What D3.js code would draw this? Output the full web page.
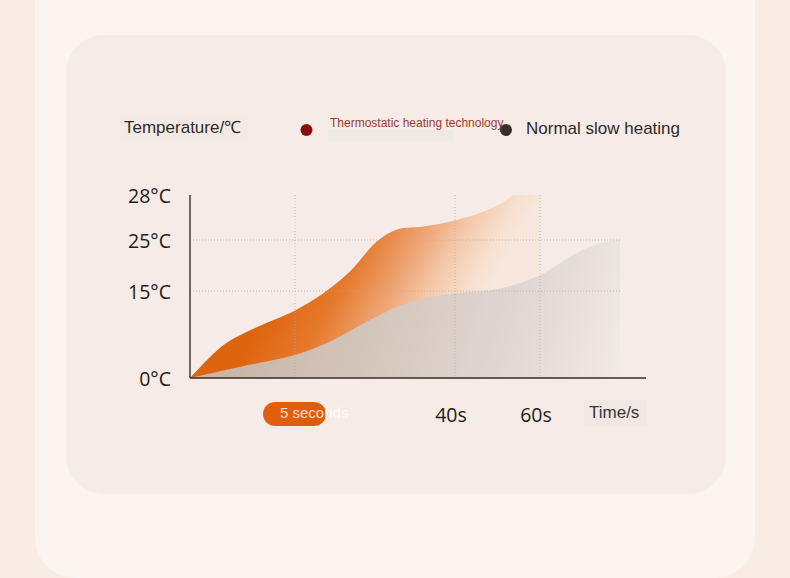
<!DOCTYPE html>
<meta charset="utf-8">
<script src="https://d3js.org/d3.v7.min.js"></script>
<style>
  body { margin: 0; background: #f8ece4; }
  text { font-family: "Liberation Sans", Arial, sans-serif; }
  .num { font-family: "Open Sans", "Noto Sans", sans-serif; }
</style>
<div id="chart"></div>
<script>

  // tick values and labels
  var yTicks = [0, 15, 25, 28];
  var xTicks = [5, 40, 60];
  var xTickLabels = ["5 seconds", "40s", "60s"];
  var seriesNames = ["Thermostatic heating technology", "Normal slow heating"];

  // thermostatic heating (seconds, °C)
  var thermoTime = [0, 1.6, 3.2, 5.15, 11.2, 17.0, 22.9, 27.3, 33.1, 40, 46.7, 53.3, 60];
  var thermoTemp = [0, 5.7, 8.8, 11.7, 14.6, 18.8, 24.7, 25.7, 25.9, 26.3, 26.9, 27.9, 30];

  // normal slow heating
  var normalTime = [0, 2.4, 5.15, 12.7, 21.4, 29.4, 40, 50.6, 60, 68.3, 75, 80];
  var normalTemp = [0, 1.95, 4.0, 6.3, 10.0, 12.9, 14.6, 15.5, 18.1, 22.1, 24.4, 25];

  var W = 790, H = 578;

  var svg = d3.select("#chart")
    .append("svg")
      .attr("width", W)
      .attr("height", H);

  // background frames
  svg.append("rect").attr("width", W).attr("height", H).attr("fill", "#f8ece4");
  svg.append("rect")
    .attr("x", 35).attr("y", -60).attr("width", 720).attr("height", 638)
    .attr("rx", 40).attr("fill", "#fcf4ef");
  svg.append("rect")
    .attr("x", 66).attr("y", 35).attr("width", 660).attr("height", 459)
    .attr("rx", 38).attr("fill", "#f6ebe6");

  // scales (axis ticks are not evenly spaced in the picture)
  var x = d3.scaleLinear()
    .domain([0, 5, 40, 60, 80, 86.5])
    .range([190, 295, 455, 540, 620, 646]);
  var y = d3.scaleLinear()
    .domain([0, 15, 25, 28])
    .range([378, 291, 240, 195]);

  var defs = svg.append("defs");

  defs.append("clipPath").attr("id", "plotClip")
    .append("rect")
      .attr("x", x(0)).attr("y", y(28))
      .attr("width", x(86.5) - x(0)).attr("height", y(0) - y(28));

  var og = defs.append("linearGradient").attr("id", "orangeGrad")
    .attr("gradientUnits", "userSpaceOnUse")
    .attr("x1", 300).attr("y1", 250).attr("x2", 460).attr("y2", 340);
  [[0, "#df640e"], [0.3, "#e57a2c"], [0.55, "#eea575"], [0.72, "#f3c8a8"], [0.9, "#f7e0cf"], [1, "#f8e7dc"]]
    .forEach(function(s) { og.append("stop").attr("offset", s[0]).attr("stop-color", s[1]); });

  var gg = defs.append("linearGradient").attr("id", "greyGrad")
    .attr("gradientUnits", "userSpaceOnUse")
    .attr("x1", 250).attr("y1", 330).attr("x2", 600).attr("y2", 440);
  [[0, "#c9b6a9"], [0.45, "#d9ccc4"], [0.75, "#e3dbd6"], [1, "#f2eae5"]]
    .forEach(function(s) { gg.append("stop").attr("offset", s[0]).attr("stop-color", s[1]); });

  var pg = defs.append("linearGradient").attr("id", "pillGrad")
    .attr("x1", 0).attr("y1", 0).attr("x2", 1).attr("y2", 0);
  pg.append("stop").attr("offset", 0).attr("stop-color", "#e2600d");
  pg.append("stop").attr("offset", 1).attr("stop-color", "#dd5a0a");

  var thermo = thermoTime.map(function(t, i) { return [t, thermoTemp[i]]; });
  var normal = normalTime.map(function(t, i) { return [t, normalTemp[i]]; });

  var area = d3.area()
    .x(function(d) { return x(d[0]); })
    .y0(y(0))
    .y1(function(d) { return y(d[1]); })
    .curve(d3.curveCatmullRom.alpha(0.5));

  var plot = svg.append("g").attr("clip-path", "url(#plotClip)");
  plot.append("path").datum(thermo).attr("d", area).attr("fill", "url(#orangeGrad)");
  plot.append("path").datum(normal).attr("d", area).attr("fill", "url(#greyGrad)");

  // dotted grid
  svg.append("g").selectAll("line")
    .data([15, 25])
    .enter().append("line")
      .attr("x1", x(0)).attr("x2", x(80) + 2)
      .attr("y1", function(d) { return y(d); })
      .attr("y2", function(d) { return y(d); })
      .attr("stroke", "#b5a79f").attr("stroke-opacity", 0.75)
      .attr("stroke-dasharray", "1,2");
  svg.append("g").selectAll("line")
    .data(xTicks)
    .enter().append("line")
      .attr("x1", function(d) { return x(d); })
      .attr("x2", function(d) { return x(d); })
      .attr("y1", y(28)).attr("y2", y(0))
      .attr("stroke", "#b5a79f").attr("stroke-opacity", 0.75)
      .attr("stroke-dasharray", "1,2");

  // axes lines
  svg.append("line")
    .attr("x1", x(0)).attr("x2", x(0)).attr("y1", y(28)).attr("y2", y(0))
    .attr("stroke", "#3b2a22").attr("stroke-width", 1.4);
  svg.append("line")
    .attr("x1", x(0)).attr("x2", x(86.5)).attr("y1", y(0)).attr("y2", y(0))
    .attr("stroke", "#3b2a22").attr("stroke-width", 1.4);

  // y tick labels
  svg.append("g").selectAll("text")
    .data(yTicks)
    .enter().append("text")
      .attr("class", "num")
      .attr("x", 171)
      .attr("y", function(d) { return y(d) + 1; })
      .attr("dy", "0.35em")
      .attr("text-anchor", "end")
      .attr("font-size", 19.5)
      .attr("fill", "#1e1a18")
      .text(function(d) { return d + "°C"; });

  // x tick labels
  xTicks.forEach(function(t, i) {
    if (i === 0) {
      svg.append("rect")
        .attr("x", x(t) - 32).attr("y", 402).attr("width", 63).attr("height", 24)
        .attr("rx", 12).attr("fill", "url(#pillGrad)");
      svg.append("text")
        .attr("x", x(t) - 15).attr("y", 418)
        .attr("font-size", 15).attr("fill", "#ffffff").attr("fill-opacity", 0.8)
        .text(xTickLabels[i]);
    } else {
      svg.append("text")
        .attr("class", "num")
        .attr("x", x(t) - 4).attr("y", 422)
        .attr("text-anchor", "middle")
        .attr("font-size", 19.5).attr("fill", "#1e1a18")
        .text(xTickLabels[i]);
    }
  });

  svg.append("rect")
    .attr("x", 584).attr("y", 400).attr("width", 63).attr("height", 27)
    .attr("fill", "#ece6e3").attr("opacity", 0.5);
  svg.append("text")
    .attr("x", 589).attr("y", 418)
    .attr("font-size", 17).attr("fill", "#3a3432")
    .text("Time/s");

  // header / legend
  svg.append("rect")
    .attr("x", 121).attr("y", 116).attr("width", 126).attr("height", 25)
    .attr("fill", "#f0e8e4").attr("opacity", 0.45);
  svg.append("text")
    .attr("x", 124).attr("y", 133)
    .attr("font-size", 17).attr("fill", "#2e2a28")
    .text("Temperature/℃");

  svg.append("rect")
    .attr("x", 328).attr("y", 130).attr("width", 125).attr("height", 11)
    .attr("fill", "#e9e7e2").attr("opacity", 0.55);
  svg.append("circle").attr("cx", 306.5).attr("cy", 130).attr("r", 6).attr("fill", "#8a0e0e");
  svg.append("text")
    .attr("x", 330).attr("y", 127)
    .attr("font-size", 12).attr("fill", "#9b3c30")
    .text(seriesNames[0]);

  svg.append("circle").attr("cx", 506).attr("cy", 130).attr("r", 6).attr("fill", "#3a3028");
  svg.append("text")
    .attr("x", 526).attr("y", 134)
    .attr("font-size", 17).attr("fill", "#2e2a28")
    .text(seriesNames[1]);

</script>
